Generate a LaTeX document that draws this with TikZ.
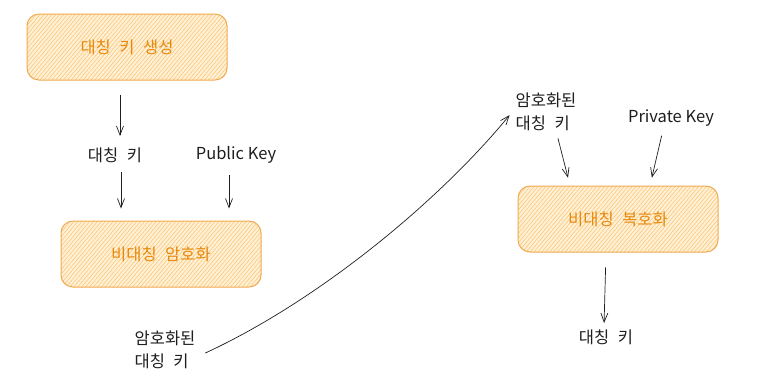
\documentclass[tikz,border=0pt]{standalone}
\usepackage{fontspec}
\setmainfont[WordSpace=2.3]{Noto Sans CJK KR}
\newfontfamily\latinfont{Noto Sans CJK KR}
\usetikzlibrary{arrows.meta,patterns.meta}
\definecolor{ink}{RGB}{30,30,30}
\definecolor{boxline}{RGB}{240,170,80}
\definecolor{boxfill}{RGB}{255,240,214}
\definecolor{hatch}{RGB}{250,200,120}
\definecolor{boxtext}{RGB}{232,137,12}

\begin{document}
\begin{tikzpicture}[x=1pt,y=-1pt,>={Straight Barb[length=9pt,width=7pt]},
  box/.style={draw=boxline,line width=1pt,rounded corners=12pt,minimum width=200pt,minimum height=66pt,
    preaction={fill=boxfill},pattern={Lines[angle=50,distance=3pt,line width=0.6pt]},pattern color=hatch,
    text=boxtext,font=\fontsize{16.5}{18}\selectfont},
  lab/.style={align=left,text=ink,font=\fontsize{16.5}{23}\selectfont},
  arr/.style={->,draw=ink,line width=0.7pt}]
\useasboundingbox (0,0) rectangle (763,389);
% boxes
\node (gen) [box] at (127,47) {대칭 키 생성};
\node (enc) [box] at (161,254) {비대칭 암호화};
\node (dec) [box] at (618,219) {비대칭 복호화};
% labels
\node (sym) [lab] at (115,155) {대칭 키};
\node (pub) [lab] at (236,155) {\latinfont Public Key};
\node (cipher) [lab] at (165,350) {암호화된\\대칭 키};
\node (cipher2) [lab] at (546,112) {암호화된\\대칭 키};
\node (priv) [lab] at (671,118) {\latinfont Private Key};
\node (out) [lab] at (606,337) {대칭 키};
% arrows
\draw[arr,shorten <=15pt,shorten >=8pt] ([xshift=-7pt]gen.south) -- ([xshift=5pt]sym.north);
\draw[arr,shorten <=6pt,shorten >=12pt] ([xshift=6pt]sym.south) -- ([xshift=-40pt]enc.north);
\draw[arr,shorten <=8pt,shorten >=12pt] ([xshift=-7pt]pub.south) -- ([xshift=68pt]enc.north);
\draw[arr,shorten <=4pt,shorten >=8pt] ([xshift=11pt]cipher2.south) -- ([xshift=-48pt]dec.north);
\draw[arr,shorten <=6pt,shorten >=8pt] ([xshift=-8pt]priv.south) -- ([xshift=32pt]dec.north);
\draw[arr,shorten <=15pt,shorten >=3pt] ([xshift=-12pt]dec.south) -- ([xshift=-2pt]out.north);
\draw[arr,shorten <=7pt,shorten >=4pt] ([yshift=-6pt]cipher.east) .. controls (320,300) and (440,200) .. (cipher2.west);
\end{tikzpicture}
\end{document}
